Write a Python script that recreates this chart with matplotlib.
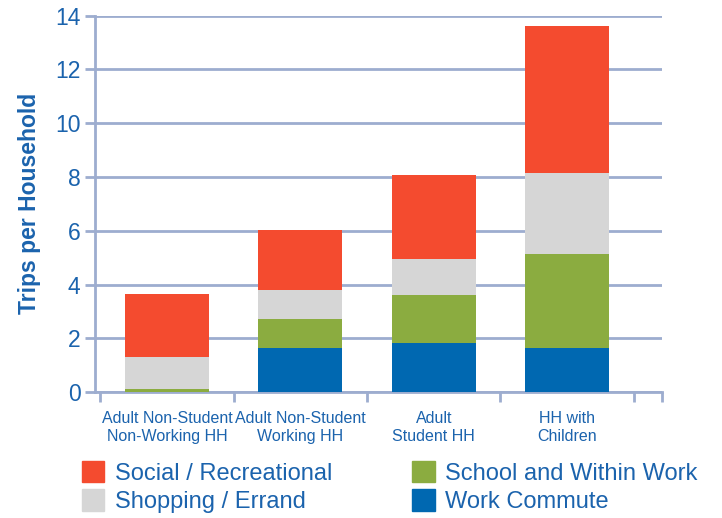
import matplotlib
matplotlib.use("Agg")
import matplotlib.pyplot as plt
import numpy as np
from matplotlib.patches import Patch

categories = ["Adult Non-Student\nNon-Working HH", "Adult Non-Student\nWorking HH",
              "Adult\nStudent HH", "HH with\nChildren"]
work = [0.0, 1.63, 1.81, 1.63]
school = [0.10, 1.08, 1.79, 3.50]
shopping = [1.19, 1.08, 1.34, 3.01]
social = [2.35, 2.23, 3.13, 5.48]

c_social = "#F44B2F"
c_shop = "#D6D6D6"
c_school = "#8BAC40"
c_work = "#0068B1"
txt = "#1B63AD"
grid = "#9DADCF"

plt.rcParams['font.family'] = ['Liberation Sans', 'DejaVu Sans']

fig = plt.figure(figsize=(7.22, 5.18), dpi=100)
ax = fig.add_axes([0.1316, 0.2432, 0.785, 0.7265])

x = np.arange(len(categories))
w = 0.63
b = np.zeros(len(categories))
for vals, col in [(work, c_work), (school, c_school), (shopping, c_shop), (social, c_social)]:
    ax.bar(x, vals, w, bottom=b, color=col, zorder=3)
    b += np.array(vals)

ax.set_ylim(0, 14)
ax.set_xlim(-0.54, 3.71)
ax.set_yticks(range(0, 15, 2))
ax.yaxis.grid(True, color=grid, lw=2, zorder=0)
ax.set_axisbelow(True)
ax.tick_params(axis='y', labelsize=16.5, labelcolor=txt, color=grid, width=2, length=7)
ax.set_xticks(x)
ax.set_xticklabels(categories, fontsize=11.5, color=txt)
ax.tick_params(axis='x', length=0, pad=14)
ax.set_xticks(list(np.arange(len(categories) + 1) - 0.5) + [3.71], minor=True)
ax.tick_params(axis='x', which='minor', length=7, width=2, color=grid)
for s in ['top', 'right']:
    ax.spines[s].set_visible(False)
for s in ['left', 'bottom']:
    ax.spines[s].set_color(grid)
    ax.spines[s].set_linewidth(2)
ax.set_ylabel("Trips per Household", fontsize=16.5, fontweight='bold', color=txt, labelpad=10)

h1 = [Patch(color=c_social), Patch(color=c_shop)]
h2 = [Patch(color=c_school), Patch(color=c_work)]
kw = dict(loc='upper left', frameon=False, fontsize=17, labelcolor=txt,
          handlelength=0.95, handleheight=1.0, handletextpad=0.45, labelspacing=0.2,
          borderpad=0, borderaxespad=0)
fig.legend(h1, ["Social / Recreational", "Shopping / Errand"],
           bbox_to_anchor=(0.113, 0.11), **kw)
fig.legend(h2, ["School and Within Work", "Work Commute"],
           bbox_to_anchor=(0.571, 0.11), **kw)

fig.savefig("out.png", dpi=100)
